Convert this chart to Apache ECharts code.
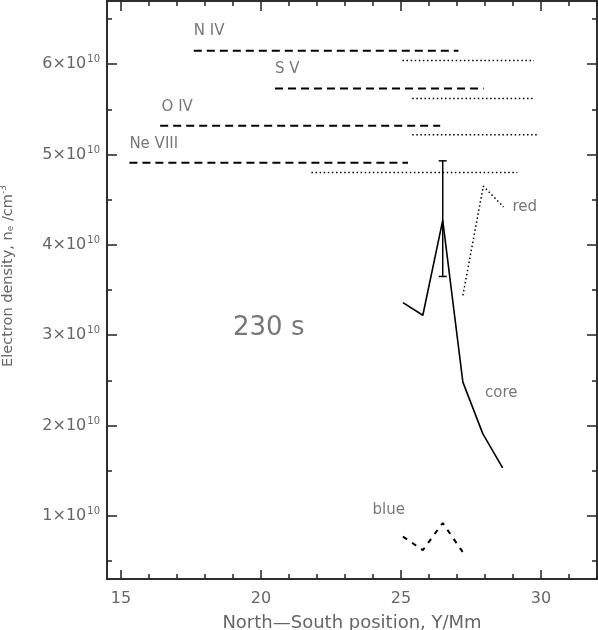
<!DOCTYPE html>
<html>
<head>
<meta charset="utf-8">
<script src="https://cdn.jsdelivr.net/npm/echarts@6/dist/echarts.min.js"></script>
<style>
  html, body { margin: 0; padding: 0; background: #fff; }
  #chart { width: 598px; height: 630px; }
</style>
</head>
<body>
<div id="chart"></div>
<script>
// densities in units of 1e10 cm^-3, positions in Mm
const ionNames = ['N IV', 'S V', 'O IV', 'Ne VIII']
const dashedStart = [17.6, 20.5, 16.4, 15.3]
const dashedEnd = [27.05, 27.95, 26.4, 25.25]
const dashedDensity = [6.15, 5.73, 5.32, 4.91]
const dottedStart = [25.05, 25.4, 25.4, 21.8]
const dottedEnd = [29.75, 29.75, 29.9, 29.15]
const dottedDensity = [6.04, 5.62, 5.22, 4.80]

const coreX = [25.07, 25.78, 26.49, 27.21, 27.92, 28.63]
const coreY = [3.36, 3.22, 4.27, 2.48, 1.91, 1.53]
const redX = [27.21, 27.94, 28.66]
const redY = [3.44, 4.65, 4.42]
const blueX = [25.07, 25.78, 26.49, 27.2]
const blueY = [0.77, 0.62, 0.92, 0.6]

const errX = [26.49]
const errLow = [3.65]
const errHigh = [4.93]

const annoText = ['N IV', 'S V', 'O IV', 'Ne VIII', 'red', 'core', 'blue', '230 s']
const annoX = [17.6, 20.5, 16.45, 15.3, 28.98, 28.0, 23.98, 19.0]
const annoY = [6.37, 5.95, 5.53, 5.11, 4.42, 2.36, 1.06, 3.08]

const xMajor = [15, 20, 25, 30]
const xMinor = [15, 16, 17, 18, 19, 20, 21, 22, 23, 24, 25, 26, 27, 28, 29, 30, 31, 32]
const yMajor = [1, 2, 3, 4, 5, 6]
const yMinor = [0.5, 1, 1.5, 2, 2.5, 3, 3.5, 4, 4.5, 5, 5.5, 6, 6.5]

const FONT = 'DejaVu Sans'
const FRAME = '#222'
const TEXT = '#666'

function xAxisDef(pos, ticks, len, withLabel) {
  return {
    type: 'value',
    position: pos,
    min: 14.5,
    max: 32,
    axisLine: { show: true, onZero: false, lineStyle: { color: FRAME, width: 1.5 } },
    axisTick: { show: true, inside: true, length: len, customValues: ticks, lineStyle: { color: FRAME, width: 1.5 } },
    axisLabel: withLabel ? {
      customValues: ticks, margin: 12, color: TEXT, fontFamily: FONT, fontSize: 16
    } : { show: false },
    splitLine: { show: false },
    name: withLabel ? 'North\u2014South position, Y/Mm' : '',
    nameLocation: 'middle',
    nameGap: 35,
    nameTextStyle: { color: TEXT, fontFamily: FONT, fontSize: 18 }
  }
}

function yAxisDef(pos, ticks, len, withLabel) {
  return {
    type: 'value',
    position: pos,
    min: 0.3,
    max: 6.7,
    axisLine: { show: true, onZero: false, lineStyle: { color: FRAME, width: 1.5 } },
    axisTick: { show: true, inside: true, length: len, customValues: ticks, lineStyle: { color: FRAME, width: 1.5 } },
    axisLabel: withLabel ? {
      customValues: ticks,
      margin: 7,
      formatter: v => '{m|' + v + '\u00d710}{s|10}',
      rich: {
        m: { color: TEXT, fontFamily: FONT, fontSize: 16 },
        s: { color: TEXT, fontFamily: FONT, fontSize: 10, padding: [0, 0, 9, 1] }
      }
    } : { show: false },
    splitLine: { show: false },
    name: withLabel ? 'Electron density, n{sub|e} /cm{sup|-3}' : '',
    nameLocation: 'middle',
    nameGap: 90,
    nameTextStyle: {
      color: TEXT, fontFamily: FONT, fontSize: 14.5,
      padding: [0, 0, 0, 28],
      rich: {
        sub: { color: TEXT, fontFamily: FONT, fontSize: 9, padding: [6, 0, 0, 0] },
        sup: { color: TEXT, fontFamily: FONT, fontSize: 9, padding: [0, 0, 9, 0] }
      }
    }
  }
}

const pairs = (xs, ys) => xs.map((x, i) => [x, ys[i]])

const series = []
ionNames.forEach((ion, i) => {
  series.push({
    name: ion + ' dashed',
    type: 'line',
    symbol: 'none',
    silent: true,
    lineStyle: { color: '#000', width: 2, type: [8, 5] },
    data: [[dashedStart[i], dashedDensity[i]], [dashedEnd[i], dashedDensity[i]]]
  })
  series.push({
    name: ion + ' dotted',
    type: 'line',
    symbol: 'none',
    silent: true,
    lineStyle: { color: '#000', width: 1.5, type: [1.5, 2.6] },
    data: [[dottedStart[i], dottedDensity[i]], [dottedEnd[i], dottedDensity[i]]]
  })
})

series.push({
  name: 'core',
  type: 'line',
  symbol: 'none',
  lineStyle: { color: '#000', width: 1.6 },
  data: pairs(coreX, coreY)
})
series.push({
  name: 'red',
  type: 'line',
  symbol: 'none',
  lineStyle: { color: '#000', width: 1.5, type: [1.5, 2.6] },
  data: pairs(redX, redY)
})
series.push({
  name: 'blue',
  type: 'line',
  symbol: 'none',
  lineStyle: { color: '#000', width: 2, type: [5, 6] },
  data: pairs(blueX, blueY)
})
series.push({
  name: 'error',
  type: 'custom',
  silent: true,
  data: errX.map((x, i) => [x, errLow[i], errHigh[i]]),
  renderItem: (params, api) => {
    const lo = api.coord([api.value(0), api.value(1)])
    const hi = api.coord([api.value(0), api.value(2)])
    const w = 4
    const st = { stroke: '#000', lineWidth: 1.5 }
    return {
      type: 'group',
      children: [
        { type: 'line', shape: { x1: lo[0], y1: lo[1], x2: hi[0], y2: hi[1] }, style: st },
        { type: 'line', shape: { x1: lo[0] - w, y1: lo[1], x2: lo[0] + w, y2: lo[1] }, style: st },
        { type: 'line', shape: { x1: hi[0] - w, y1: hi[1], x2: hi[0] + w, y2: hi[1] }, style: st }
      ]
    }
  }
})
series.push({
  name: 'labels',
  type: 'scatter',
  symbolSize: 0,
  silent: true,
  data: annoText.map((t, i) => ({
    value: [annoX[i], annoY[i]],
    label: {
      show: true,
      formatter: t,
      position: [0, 0],
      align: 'left',
      verticalAlign: 'middle',
      color: '#555',
      fontFamily: FONT,
      fontSize: t === '230 s' ? 26 : 15
    }
  }))
})

const chart = echarts.init(document.getElementById('chart'))
chart.setOption({
  backgroundColor: '#fff',
  animation: false,
  grid: { left: 107, right: 1, top: 1, bottom: 51, outerBoundsMode: 'none' },
  xAxis: [
    xAxisDef('bottom', xMajor, 9, true),
    xAxisDef('bottom', xMinor, 5, false),
    xAxisDef('top', xMajor, 10, false),
    xAxisDef('top', xMinor, 5, false)
  ],
  yAxis: [
    yAxisDef('left', yMajor, 10, true),
    yAxisDef('left', yMinor, 5, false),
    yAxisDef('right', yMajor, 10, false),
    yAxisDef('right', yMinor, 5, false)
  ],
  series: series
})
</script>
</body>
</html>
